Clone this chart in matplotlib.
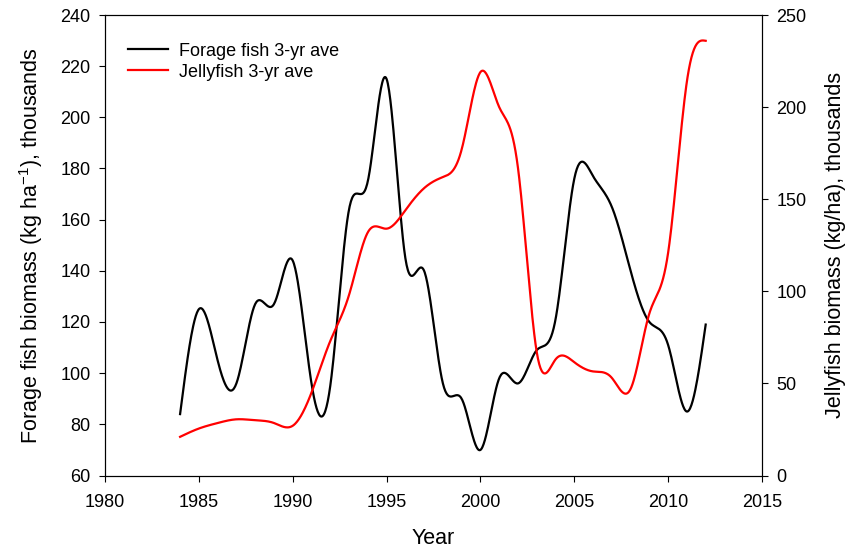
import numpy as np
import matplotlib
matplotlib.use("Agg")
import matplotlib.pyplot as plt

plt.rcParams['font.family'] = ['Liberation Sans', 'DejaVu Sans']
plt.rcParams['mathtext.default'] = 'regular'

years = [1984, 1985, 1986, 1987, 1988, 1989, 1990, 1991, 1992, 1993,
         1994, 1995, 1996, 1997, 1998, 1999, 2000, 2001, 2002, 2003,
         2004, 2005, 2006, 2007, 2008, 2009, 2010, 2011, 2012]
forage_fish = [84, 125, 105, 96, 127, 127, 144, 96, 95, 164,
               175, 215, 145, 140, 96, 90, 70, 98, 96, 109,
               121, 176, 177, 165, 140, 120, 111, 85, 119]
jellyfish = [21, 25.5, 28.5, 30.5, 30, 28.5, 27, 45, 73, 98,
             132, 134, 144, 156, 162, 177, 219, 200, 167, 67,
             63, 61.5, 56.5, 53, 47, 88, 121, 214, 236]

x_ticks = [1980, 1985, 1990, 1995, 2000, 2005, 2010, 2015]
left_ticks = [60, 80, 100, 120, 140, 160, 180, 200, 220, 240]
right_ticks = [0, 50, 100, 150, 200, 250]


def smooth_curve(x, y, per_seg=30):
    """Natural cubic spline through the data points (for line rendering)."""
    x = np.asarray(x, float)
    y = np.asarray(y, float)
    n = len(x)
    h = np.diff(x)
    A = np.zeros((n, n))
    b = np.zeros(n)
    A[0, 0] = 1
    A[-1, -1] = 1
    for i in range(1, n - 1):
        A[i, i - 1] = h[i - 1]
        A[i, i] = 2 * (h[i - 1] + h[i])
        A[i, i + 1] = h[i]
        b[i] = 6 * ((y[i + 1] - y[i]) / h[i] - (y[i] - y[i - 1]) / h[i - 1])
    M = np.linalg.solve(A, b)
    xs, ys = [], []
    for i in range(n - 1):
        t = np.linspace(x[i], x[i + 1], per_seg, endpoint=(i == n - 2))
        a = x[i + 1] - t
        c = t - x[i]
        s = (M[i] * a ** 3 + M[i + 1] * c ** 3) / (6 * h[i]) \
            + (y[i] / h[i] - M[i] * h[i] / 6) * a \
            + (y[i + 1] / h[i] - M[i + 1] * h[i] / 6) * c
        xs.append(t)
        ys.append(s)
    return np.concatenate(xs), np.concatenate(ys)


fig = plt.figure(figsize=(8.58, 5.51), dpi=100)
ax = fig.add_axes([105 / 858, 1 - 475.5 / 551, 657 / 858, 460.5 / 551])
ax2 = ax.twinx()

fx, fy = smooth_curve(years, forage_fish)
jx, jy = smooth_curve(years, jellyfish)
l1, = ax.plot(fx, fy, color='black', lw=1.6, label='Forage fish 3-yr ave')
l2, = ax2.plot(jx, jy, color='#ff0000', lw=1.6, label='Jellyfish 3-yr ave')

ax.set_xlim(1980, 2015)
ax.set_ylim(60, 240)
ax2.set_ylim(0, 250)
ax.set_xticks(x_ticks)
ax.set_yticks(left_ticks)
ax2.set_yticks(right_ticks)

for a in (ax, ax2):
    a.tick_params(direction='out', length=4.5, width=0.8, labelsize=13,
                  colors='black', pad=6)
    for sp in a.spines.values():
        sp.set_linewidth(0.8)
ax.tick_params(axis='x', pad=9)

ax.set_xlabel('Year', fontsize=15.5, labelpad=12)
ax.set_ylabel('Forage fish biomass (kg ha$^{-1}$), thousands', fontsize=15.5, labelpad=11)
ax2.set_ylabel('Jellyfish biomass (kg/ha), thousands', fontsize=15.5, labelpad=13)

ax2.legend([l1, l2], [l1.get_label(), l2.get_label()], loc='upper left',
           bbox_to_anchor=(0.035, 0.94), frameon=False, fontsize=13,
           borderpad=0, borderaxespad=0, handlelength=2.2, handletextpad=0.6,
           labelspacing=0.22)

fig.savefig('out.png', dpi=100)
